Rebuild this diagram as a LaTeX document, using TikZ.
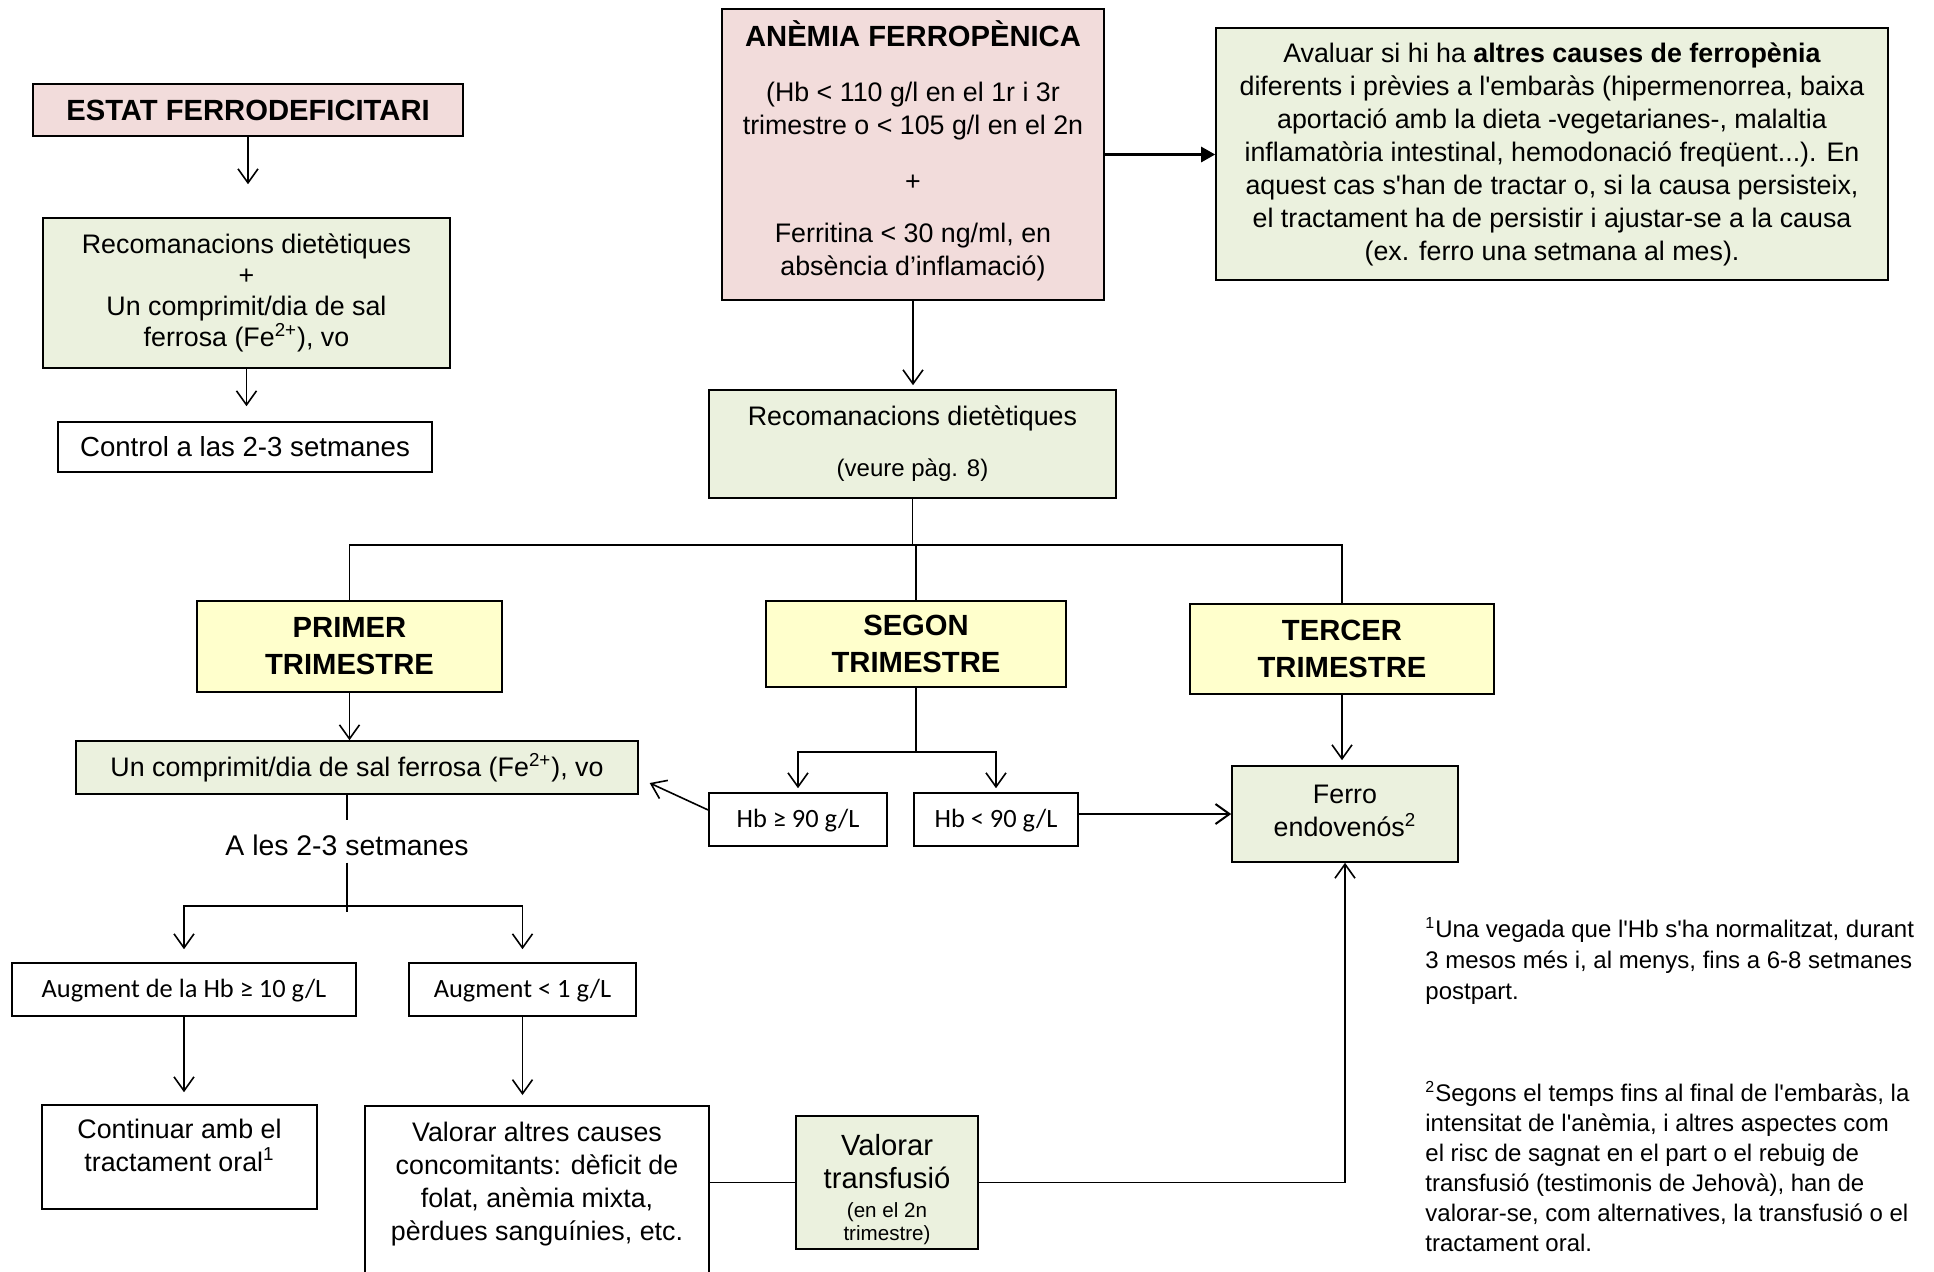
\documentclass[tikz,border=0pt]{standalone}
\usepackage{fontspec}
\setmainfont{Liberation Sans}
\newfontfamily\calib{Carlito}
\usetikzlibrary{arrows.meta}
\definecolor{pinkfill}{HTML}{F2DCDB}
\definecolor{greenfill}{HTML}{EBF1DE}
\definecolor{yellowfill}{HTML}{FFFFCC}
\newcommand{\fsz}[2]{\fontsize{#1}{#2}\selectfont}
\newcommand{\apos}{\textquotesingle}
\tikzset{
  box/.style={draw, line width=0.8pt, inner sep=2pt, align=center, font=\fsz{13.4}{16.5}},
  pinkbox/.style={box, fill=pinkfill},
  greenbox/.style={box, fill=greenfill},
  yellowbox/.style={box, fill=yellowfill, font=\bfseries\fsz{14.6}{18.5}},
  calbox/.style={box, font=\calib\fsz{13.2}{16}, text height=10.5pt},
  arr/.style={-{Straight Barb[length=7pt,width=10pt]}, line width=0.8pt},
  bigarr/.style={-{Triangle[length=7pt,width=7.5pt]}, line width=1.3pt},
  link/.style={line width=0.8pt},
}
\begin{document}
\begin{tikzpicture}[x=0.5pt,y=-0.5pt]
\useasboundingbox (0,0) rectangle (1934,1271);
\clip (0,0) rectangle (1934,1271);
% left column
\node[pinkbox, minimum width=215pt, minimum height=26pt, font=\bfseries\fsz{14.6}{18}] (estat) at (248,110) {ESTAT FERRODEFICITARI};
\node[greenbox, minimum width=203.5pt, minimum height=75pt, font=\fsz{13.4}{15.5}] (recleft) at (246.5,293) {Recomanacions dietètiques\\ +\\ Un comprimit/dia de sal\\ ferrosa (Fe\textsuperscript{2+}), vo};
\node[box, minimum width=187pt, minimum height=25pt, font=\fsz{13.8}{16.5}] (control) at (245,447) {Control a las 2-3 setmanes};
% top
\node[pinkbox, minimum width=191pt, minimum height=145.5pt, text depth=6.5pt] (anemia) at (913,154.5) {{\bfseries\fsz{14.6}{18}ANÈMIA FERROPÈNICA}\\[11pt] (Hb < 110 g/l en el 1r i 3r\\ trimestre o < 105 g/l en el 2n\\[11.5pt] +\\[9.5pt] Ferritina < 30 ng/ml, en\\ absència d’inflamació)};
\node[greenbox, minimum width=336pt, minimum height=126pt] (avaluar) at (1552,154) {Avaluar si hi ha \textbf{altres causes de ferropènia}\\ diferents i prèvies a l\apos embaràs (hipermenorrea, baixa\\ aportació amb la dieta -vegetarianes-, malaltia\\ inflamatòria intestinal, hemodonació freqüent...). En\\ aquest cas s\apos han de tractar o, si la causa persisteix,\\ el tractament ha de persistir i ajustar-se a la causa\\ (ex. ferro una setmana al mes).};
\node[greenbox, minimum width=203.5pt, minimum height=54pt] (recmid) at (912.5,444) {Recomanacions dietètiques\\[9pt] {\fsz{12}{14}(veure pàg. 8)}};
% trimestres
\node[yellowbox, minimum width=152.5pt, minimum height=45.5pt] (primer) at (349.5,646.5) {PRIMER\\ TRIMESTRE};
\node[yellowbox, minimum width=150pt, minimum height=43pt] (segon) at (916,644) {SEGON\\ TRIMESTRE};
\node[yellowbox, minimum width=152pt, minimum height=45pt] (tercer) at (1342,649) {TERCER\\ TRIMESTRE};
\node[greenbox, minimum width=281pt, minimum height=26.5pt] (oral) at (357,767.5) {Un comprimit/dia de sal ferrosa (Fe\textsuperscript{2+}), vo};
\node[font=\fsz{14.2}{16.5}] (ales) at (347,845) {A les 2-3 setmanes};
\node[calbox, minimum width=89pt, minimum height=26.5pt] (hbhigh) at (798,819.5) {Hb ≥ 90 g/L};
\node[calbox, minimum width=82pt, minimum height=26.5pt] (hblow) at (996,819.5) {Hb < 90 g/L};
\node[greenbox, minimum width=113pt, minimum height=48pt, text depth=3pt] (ferro) at (1345,814) {Ferro\\ endovenós\textsuperscript{2}};
% bottom
\node[calbox, minimum width=172pt, minimum height=26.5pt] (augA) at (184,989.5) {Augment de la Hb ≥ 10 g/L};
\node[calbox, minimum width=113.5pt, minimum height=26.5pt] (augB) at (522.5,989.5) {Augment < 1 g/L};
\node[box, minimum width=137.5pt, minimum height=52pt, text depth=12pt] (continuar) at (179.5,1157) {Continuar amb el\\ tractament oral\textsuperscript{1}};
\node[box, minimum width=172pt, minimum height=92.5pt, anchor=north] (altres) at (537,1105) {};
\node[align=center, font=\fsz{13.4}{16.65}] (altrestxt) at (537,1184) {Valorar altres causes\\ concomitants: dèficit de\\ folat, anèmia mixta,\\ pèrdues sanguínies, etc.};
\node[greenbox, minimum width=91pt, minimum height=66.5pt] (transf) at (887,1182.5) {\fsz{14.6}{16.5}\rule{0pt}{17.5pt}Valorar\\ \fsz{14.6}{16.5}transfusió\\[-2pt] \fsz{10.3}{12}(en el 2n\\[-5pt] \fsz{10.3}{12}trimestre)};
% notes
\node[anchor=north west, align=left, inner sep=0pt, font=\fsz{12}{15.5}] (nota1) at (1425,917) {\textsuperscript{1}Una vegada que l\apos Hb s\apos ha normalitzat, durant\\ 3 mesos més i, al menys, fins a 6-8 setmanes\\ postpart.};
\node[anchor=north west, align=left, inner sep=0pt, font=\fsz{12}{15}] (nota2) at (1425,1081) {\textsuperscript{2}Segons el temps fins al final de l\apos embaràs, la\\ intensitat de l\apos anèmia, i altres aspectes com\\ el risc de sagnat en el part o el rebuig de\\ transfusió (testimonis de Jehovà), han de\\ valorar-se, com alternatives, la transfusió o el\\ tractament oral.};
% connectors
\draw[arr, shorten >=16.5pt] (estat.south) -- (estat.south |- recleft.north);
\draw[arr, shorten >=7.5pt] (recleft.south) -- (recleft.south |- control.north);
\draw[arr, shorten >=2pt] (anemia.south) -- (anemia.south |- recmid.north);
\draw[bigarr] (anemia.east) -- (anemia.east -| avaluar.west);
\coordinate (split) at (913,545);
\draw[link] (recmid.south) -- (recmid.south |- split);
\draw[link] (primer.north) |- (split) -| (tercer.north);
\draw[link] (segon.north) -- (segon.north |- split);
\draw[arr] (primer.south) -- (primer.south |- oral.north);
\draw[link, shorten >=4pt] (ales.north |- oral.south) -- (ales.north);
\coordinate (fork) at (347,912);
\coordinate (bar) at (347,906);
\draw[link] (ales.south) -- (fork);
\draw[arr, shorten >=6.5pt] (bar) -| (augA.north);
\draw[arr, shorten >=6.5pt] (bar) -| (augB.north);
\draw[arr, shorten >=6pt] (augA.south) -- (augA.south |- continuar.north);
\draw[arr, shorten >=5pt] (augB.south) -- (augB.south |- altres.north);
\draw[link] (altres.east |- transf.west) -- (transf.west);
\draw[arr] (transf.east) -| (ferro.south);
\draw[arr, shorten >=2.5pt] (tercer.south) -- (tercer.south |- ferro.north);
\coordinate (sg) at (916,752);
\draw[link] (segon.south) -- (sg);
\draw[arr, shorten >=2pt] (sg) -| (hbhigh.north);
\draw[arr, shorten >=2pt] (sg) -| (hblow.north);
\draw[arr, shorten >=6pt] ([yshift=4.75pt]hbhigh.west) -- ([yshift=-5.25pt]oral.east);
\draw[arr, line width=1pt] (ferro.west -| hblow.east) -- (ferro.west);
\end{tikzpicture}
\end{document}
